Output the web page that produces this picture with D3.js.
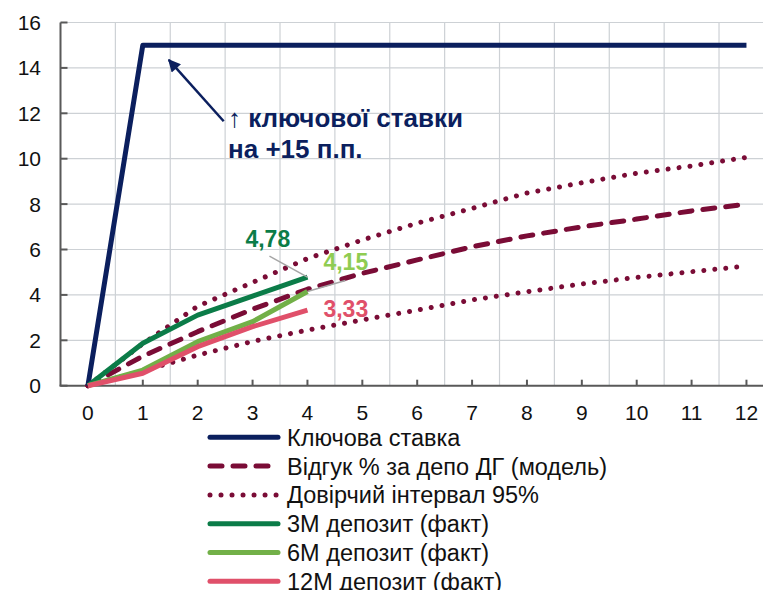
<!DOCTYPE html>
<html lang="uk">
<head>
<meta charset="UTF-8">
<script src="https://d3js.org/d3.v7.min.js"></script>
<style>
  html, body { margin: 0; background: #fff; overflow: hidden; }
  text { font-family: "Liberation Sans", Arial, sans-serif; }
</style>
</head>
<body>
<svg id="svg" width="763" height="590"></svg>
<script>
// months after the rate hike
const months = [0, 1, 2, 3, 4, 5, 6, 7, 8, 9, 10, 11, 12];
const keyRate = [0, 15, 15, 15, 15, 15, 15, 15, 15, 15, 15, 15, 15];
const model = [0, 1.3, 2.38, 3.37, 4.25, 4.95, 5.54, 6.12, 6.6, 7.0, 7.34, 7.7, 8.0];
const upper95 = [0, 1.85, 3.5, 4.55, 5.6, 6.42, 7.16, 7.81, 8.49, 8.94, 9.36, 9.68, 10.06];
const lower95 = [0, 0.65, 1.35, 1.95, 2.45, 2.9, 3.33, 3.78, 4.14, 4.48, 4.77, 5.02, 5.27];
const dep3m = [0, 1.87, 3.11, 3.95, 4.78];
const dep6m = [0, 0.69, 1.94, 2.82, 4.15];
const dep12m = [0, 0.55, 1.72, 2.6, 3.33];
const yTicks = [0, 2, 4, 6, 8, 10, 12, 14, 16];

const navy = '#0b1f5e', maroon = '#7a0c36', green = '#0b7c48',
      lgreen = '#72b048', pink = '#e0506a';

const svg = d3.select('#svg');
const x = d3.scalePoint().domain(months).range([60.5, 773.9]).padding(0.5);
const step = x.step();
const y = d3.scaleLinear().domain([0, 16]).range([385.7, 22.5]);
const left = 60.5, right = 773.9;

// grid
const grid = svg.append('g');
grid.selectAll('line.h').data(yTicks.slice(1)).join('line')
  .attr('x1', left).attr('x2', right)
  .attr('y1', d => y(d)).attr('y2', d => y(d))
  .attr('stroke', '#cdd1d5').attr('stroke-width', 1.2);
grid.selectAll('line.v').data(months.slice(1)).join('line')
  .attr('x1', d => x(d) - step / 2).attr('x2', d => x(d) - step / 2)
  .attr('y1', y(16)).attr('y2', y(0))
  .attr('stroke', '#cdd1d5').attr('stroke-width', 1.2);

// axes
const axisColor = '#595959';
svg.append('line').attr('x1', left).attr('x2', left).attr('y1', y(16)).attr('y2', y(0))
  .attr('stroke', axisColor).attr('stroke-width', 2);
svg.append('line').attr('x1', left - 1).attr('x2', right).attr('y1', y(0)).attr('y2', y(0))
  .attr('stroke', axisColor).attr('stroke-width', 2);
svg.selectAll('line.yt').data(yTicks).join('line')
  .attr('x1', left).attr('x2', left + 7)
  .attr('y1', d => y(d)).attr('y2', d => y(d))
  .attr('stroke', axisColor).attr('stroke-width', 2);
svg.selectAll('line.xt').data(months).join('line')
  .attr('x1', d => x(d)).attr('x2', d => x(d))
  .attr('y1', y(0)).attr('y2', y(0) - 6)
  .attr('stroke', axisColor).attr('stroke-width', 2);
svg.selectAll('text.yl').data(yTicks).join('text')
  .attr('x', 41).attr('y', d => y(d)).attr('dy', '0.36em')
  .attr('text-anchor', 'end').attr('font-size', 21).attr('fill', '#111')
  .text(d => d);
svg.selectAll('text.xl').data(months).join('text')
  .attr('x', d => x(d)).attr('y', 420)
  .attr('text-anchor', 'middle').attr('font-size', 21).attr('fill', '#111')
  .text(d => d);

// series
const line = d3.line().x((d, i) => x(months[i])).y(d => y(d));
const series = [
  { name: 'Ключова ставка', data: keyRate, color: navy, width: 5 },
  { name: 'Відгук % за депо ДГ (модель)', data: model, color: maroon, width: 5, dash: '12 11' },
  { name: 'Довірчий інтервал 95%', data: upper95, color: maroon, width: 5, dash: '0.01 11' },
  { name: null, data: lower95, color: maroon, width: 5, dash: '0.01 11' },
  { name: '3М депозит (факт)', data: dep3m, color: green, width: 5 },
  { name: '6М депозит (факт)', data: dep6m, color: lgreen, width: 5 },
  { name: '12М депозит (факт)', data: dep12m, color: pink, width: 5 }
];
const drawOrder = [2, 3, 1, 0, 4, 5, 6];
drawOrder.forEach(i => {
  const s = series[i];
  svg.append('path').attr('d', line(s.data))
    .attr('fill', 'none').attr('stroke', s.color).attr('stroke-width', s.width)
    .attr('stroke-linejoin', 'round')
    .attr('stroke-linecap', s.dash ? 'round' : 'butt')
    .attr('stroke-dasharray', s.dash || null);
});

// data labels at month 4
const last = 4;
const labels = [
  { v: dep3m[last], color: green, dx: -62, dy: -30, lx: -38, ly: -21 },
  { v: dep6m[last], color: '#8fcc52', dx: 16, dy: -21, lx: 38, ly: -11 },
  { v: dep12m[last], color: pink, dx: 16, dy: 7 }
];
labels.forEach(l => {
  const px = x(last), py = y(l.v);
  if (l.lx) {
    svg.append('line').attr('x1', px).attr('y1', py)
      .attr('x2', px + l.lx).attr('y2', py + l.ly)
      .attr('stroke', '#a6a6a6').attr('stroke-width', 1.5);
  }
  svg.append('text').attr('x', px + l.dx).attr('y', py + l.dy)
    .attr('font-size', 23).attr('font-weight', 'bold').attr('fill', l.color)
    .text(d3.format('.2f')(l.v).replace('.', ','));
});

// annotation arrow
svg.append('defs').append('marker')
  .attr('id', 'arr').attr('viewBox', '0 0 10 10').attr('refX', 9).attr('refY', 5)
  .attr('markerWidth', 6).attr('markerHeight', 5).attr('markerUnits', 'strokeWidth')
  .attr('orient', 'auto')
  .append('path').attr('d', 'M0,0 L10,5 L0,10 Z').attr('fill', navy);
svg.append('line')
  .attr('x1', x(2) + 26).attr('y1', y(11.65))
  .attr('x2', x(1) + 26).attr('y2', y(14.35))
  .attr('stroke', navy).attr('stroke-width', 2.5).attr('marker-end', 'url(#arr)');
const ann = svg.append('text').attr('font-size', 26).attr('font-weight', 'bold').attr('fill', navy);
ann.append('tspan').attr('x', 228).attr('y', 127).text('↑ ключової ставки');
ann.append('tspan').attr('x', 228).attr('y', 158).text('на +15 п.п.');

// legend
const legend = series.filter(s => s.name);
const lg = svg.append('g');
legend.forEach((s, i) => {
  const cy = 437.3 + i * 28.8;
  lg.append('line').attr('x1', 210).attr('x2', 278).attr('y1', cy).attr('y2', cy)
    .attr('stroke', s.color).attr('stroke-width', s.width)
    .attr('stroke-linecap', 'round')
    .attr('stroke-dasharray', s.dash || null);
  lg.append('text').attr('x', 287).attr('y', cy).attr('dy', '0.36em')
    .attr('font-size', 23.5).attr('fill', '#111').text(s.name);
});
</script>
</body>
</html>
